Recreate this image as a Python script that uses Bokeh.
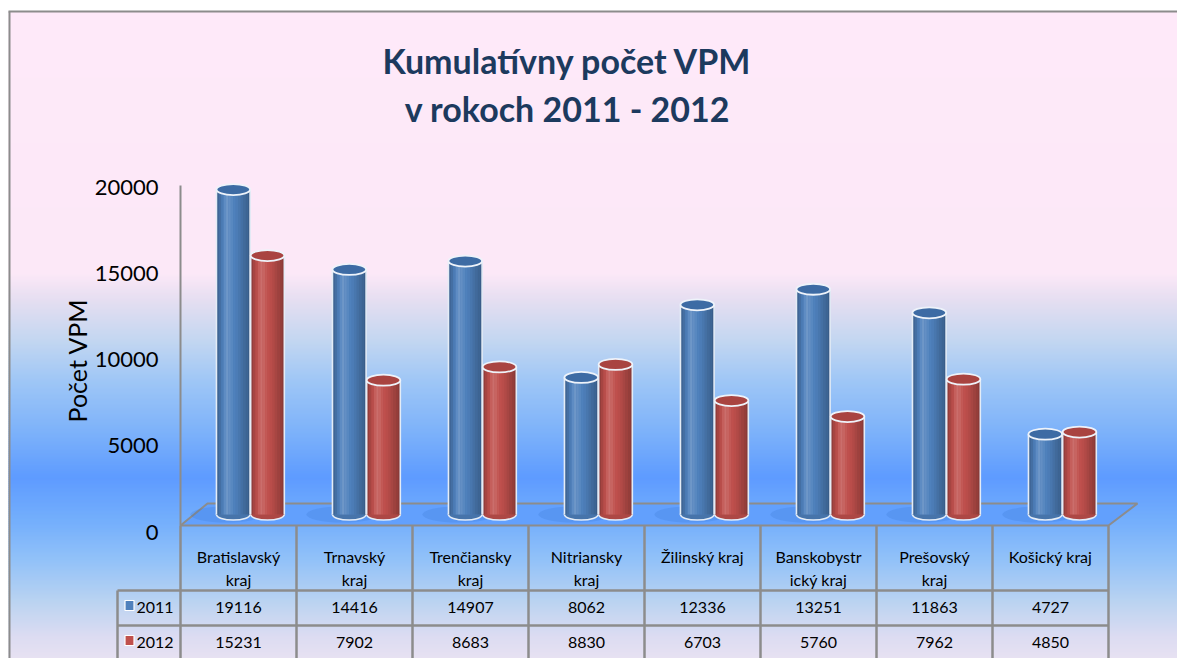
import math
from bokeh.plotting import figure
from bokeh.models import Range1d
from bokeh.core.properties import value
from bokeh.embed import file_html
from bokeh.resources import INLINE

# ---------------- data ----------------
categories = ["Bratislavský\nkraj", "Trnavský\nkraj", "Trenčiansky\nkraj", "Nitriansky\nkraj",
              "Žilinský kraj", "Banskobystr\nický kraj", "Prešovský\nkraj", "Košický kraj"]
series = ["2011", "2012"]
values_2011 = [19116, 14416, 14907, 8062, 12336, 13251, 11863, 4727]
values_2012 = [15231, 7902, 8683, 8830, 6703, 5760, 7962, 4850]
y_ticks = [0, 5000, 10000, 15000, 20000]
title_lines = ["Kumulatívny počet VPM", "v rokoch 2011 - 2012"]
y_label = "Počet VPM"

# ---------------- style / layout ----------------
FONT = "Lato"
BLUE, RED = "#4F81BD", "#C0504D"
BLUE_TOP, RED_TOP = "#3D6BA4", "#A94441"
GRID = "#8C8C8C"
W, H = 1177, 658
OX, OY = 0, 0                       # page position of the figure

PX_X = Range1d(OX, OX + W)
PX_Y = Range1d(OY + H, OY)
COL0, COLW = 238.0, 116.0          # category centre / spacing on page
Y0, YS = 514.0, 0.0170             # value 0 position / px per unit
LY0, LYS = 531.5, 0.01722          # tick-label placement (3D offset)

p = figure(width=W, height=H, output_backend="svg", toolbar_location=None,
           x_axis_location=None, y_axis_location=None,
           x_range=Range1d((OX - COL0) / COLW, (OX + W - COL0) / COLW),
           y_range=Range1d((Y0 - (OY + H)) / YS, (Y0 - OY) / YS),
           min_border=0, outline_line_color=None,
           background_fill_color="white", border_fill_color="white")
p.grid.visible = False
p.extra_x_ranges = {"px": PX_X}
p.extra_y_ranges = {"px": PX_Y,
                    "lab": Range1d((LY0 - (OY + H)) / LYS, (LY0 - OY) / LYS)}


def hex2rgb(h):
    return [int(h[i:i + 2], 16) for i in (1, 3, 5)]


def rgb2hex(c):
    return "#%02x%02x%02x" % tuple(max(0, min(255, int(round(v)))) for v in c)


def mix(a, b, t):
    return [a[i] + (b[i] - a[i]) * t for i in range(3)]


# ---------------- background gradient ----------------
stops = [(11, "#FEE9F9"), (272, "#FCE8F7"), (300, "#E4DEF1"), (340, "#C2D6F1"),
         (380, "#9EC6F6"), (430, "#7DB2FA"), (476, "#5E9BFF"), (520, "#74AFFC"),
         (560, "#93C2F8"), (600, "#BAD3F1"), (635, "#DCDCF2"), (660, "#E8E2F2")]
band_top, band_bot, band_col = [], [], []
y = 11
while y < OY + H:
    c = hex2rgb(stops[-1][1])
    for j in range(len(stops) - 1):
        if stops[j][0] <= y <= stops[j + 1][0]:
            t = (y - stops[j][0]) / (stops[j + 1][0] - stops[j][0])
            c = mix(hex2rgb(stops[j][1]), hex2rgb(stops[j + 1][1]), t)
            break
    band_top.append(y)
    band_bot.append(y + 2.6)
    band_col.append(rgb2hex(c))
    y += 2
p.quad(left=8, right=OX + W, top=band_top, bottom=band_bot, fill_color=band_col,
       line_color=None, x_range_name="px", y_range_name="px")

# chart border
p.line([8, OX + W], [11, 11], line_color=GRID, line_width=2, x_range_name="px", y_range_name="px")
p.line([9, 9], [11, OY + H], line_color=GRID, line_width=2, x_range_name="px", y_range_name="px")

# floor
p.patch([180, 1108, 1137, 207], [525, 525, 503, 503], fill_color="#62A0FD",
        line_color=GRID, line_width=2, x_range_name="px", y_range_name="px")
# wall line
p.line([180, 180], [185, 525], line_color=GRID, line_width=2, x_range_name="px", y_range_name="px")

# ---------------- cylinders ----------------
N = 14
BW = 0.29
offsets = [-0.045, 0.25]
prof_t = [0.0, 0.12, 0.3, 0.45, 0.65, 0.85, 1.0]
prof_f = [0.72, 0.88, 1.12, 1.04, 0.94, 0.80, 0.70]


def factor(t):
    for j in range(len(prof_t) - 1):
        if prof_t[j] <= t <= prof_t[j + 1]:
            u = (t - prof_t[j]) / (prof_t[j + 1] - prof_t[j])
            return prof_f[j] + (prof_f[j + 1] - prof_f[j]) * u
    return 1.0


def shade(base, f):
    c = hex2rgb(base)
    if f <= 1:
        return rgb2hex([v * f for v in c])
    return rgb2hex(mix(c, [255, 255, 255], (f - 1) * 1.6))


idx = list(range(len(categories)))
# floor shadows
p.ellipse(x=[i + offsets[0] - 0.06 for i in idx], y=[0] * len(idx), width=0.62, height=16,
          height_units="screen", fill_color="#2F69C4", fill_alpha=0.18, line_color=None)

for vals, base, topc, off in [(values_2011, BLUE, BLUE_TOP, offsets[0]),
                              (values_2012, RED, RED_TOP, offsets[1])]:
    cx = [i + off for i in idx]
    # bottom rim
    p.ellipse(x=cx, y=[0] * len(idx), width=BW, height=11, height_units="screen",
              fill_color=shade(base, 0.9), line_color="#E4ECF6", line_width=1.6)
    # solid body first, then shaded strips on top (avoids seams)
    p.vbar(x=cx, width=BW, top=vals, bottom=0, fill_color=shade(base, 0.95), line_color=None)
    xs, tops, cols = [], [], []
    for i, v in enumerate(vals):
        for k in range(N):
            t = (k + 0.5) / N
            xs.append(cx[i] - BW / 2 + t * BW)
            tops.append(v)
            cols.append(shade(base, factor(t)))
    p.vbar(x=xs, width=BW / N * 1.02, top=tops, bottom=0, fill_color=cols, line_color=None)
    # side outlines
    p.segment(x0=[c - BW / 2 for c in cx] + [c + BW / 2 for c in cx], y0=[0] * (2 * len(idx)),
              x1=[c - BW / 2 for c in cx] + [c + BW / 2 for c in cx], y1=list(vals) * 2,
              line_color="#E4ECF6", line_width=1.6)
    # top cap
    p.ellipse(x=cx, y=vals, width=BW, height=11, height_units="screen",
              fill_color=topc, line_color="#EEF3FA", line_width=1.8)

# ---------------- axis tick labels & title ----------------
p.text(x=[158] * len(y_ticks), y=y_ticks, text=[str(t) for t in y_ticks],
       text_font=value(FONT), text_font_size="22px", text_color="black",
       text_align="right", text_baseline="middle", x_range_name="px", y_range_name="lab")
p.text(x=[76], y=[360], text=[y_label], angle=math.pi / 2, text_font=value(FONT),
       text_font_size="25px", text_color="black", text_align="center",
       text_baseline="middle", x_range_name="px", y_range_name="px")
p.text(x=[567, 567], y=[60, 108], text=title_lines, text_font=value(FONT),
       text_font_size="34px", text_font_style="bold", text_color="#1C3A5E",
       text_align="center", text_baseline="middle", x_range_name="px", y_range_name="px")

# ---------------- data table ----------------
ncat = len(categories)
vx = [k - 0.5 for k in range(ncat + 1)]
p.segment(x0=vx, y0=[525] * len(vx), x1=vx, y1=[670] * len(vx), line_color=GRID,
          line_width=2.5, y_range_name="px")
leg_left = (117 - COL0) / COLW
p.segment(x0=[leg_left, leg_left, leg_left], y0=[590, 625, 590],
          x1=[ncat - 0.5, ncat - 0.5, leg_left], y1=[590, 625, 670],
          line_color=GRID, line_width=2.5, y_range_name="px")
p.text(x=idx, y=[546] * ncat, text=categories, text_font=value(FONT), text_font_size="16px",
       text_color="black", text_align="center", text_baseline="top", text_line_height=1.22,
       y_range_name="px")
for row_y, vals in [(607, values_2011), (642, values_2012)]:
    p.text(x=idx, y=[row_y] * ncat, text=[str(v) for v in vals], text_font=value(FONT),
           text_font_size="16px", text_color="black", text_align="center",
           text_baseline="middle", y_range_name="px")
p.rect(x=[129, 129], y=[605, 640], width=9, height=10, fill_color=[BLUE, RED],
       line_color="white", line_width=1.2, x_range_name="px", y_range_name="px")
p.text(x=[136, 136], y=[607, 642], text=series, text_font=value(FONT), text_font_size="16px",
       text_color="black", text_align="left", text_baseline="middle",
       x_range_name="px", y_range_name="px")

open("out.html", "w").write(file_html(p, INLINE))
